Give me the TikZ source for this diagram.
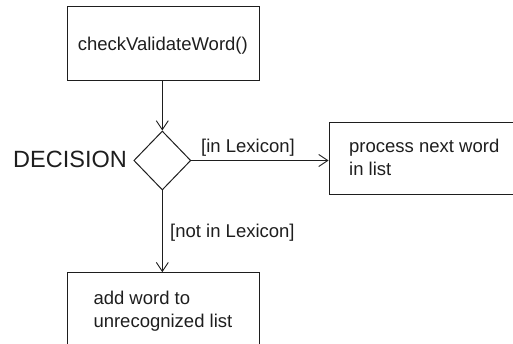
\documentclass[tikz,border=0pt]{standalone}
\usepackage{fontspec}
\setmainfont{Liberation Sans}
\usetikzlibrary{arrows.meta,shapes.geometric}
\definecolor{ink}{HTML}{1E1E1E}
\tikzset{
  box/.style={draw=ink,line width=1pt,rectangle,inner sep=0pt},
  txt/.style={text=ink,inner sep=0pt,font=\fontsize{18.5}{22}\selectfont},
  flow/.style={draw=ink,line width=0.9pt,-{Straight Barb[length=9pt,width=12pt,line width=0.9pt]}},
}
\begin{document}
\begin{tikzpicture}[x=1pt,y=-1pt]
\useasboundingbox (0,0) rectangle (513,344);
\clip (0,0) rectangle (513,344);
% boxes
\node[box,minimum width=192pt,minimum height=73.6pt] (check) at (163.3,43.5) {};
\node[box,minimum width=231pt,minimum height=72.3pt] (proc) at (444.5,158.2) {};
\node[box,minimum width=192pt,minimum height=76pt] (add) at (163.3,310.7) {};
\node[draw=ink,line width=1pt,diamond,minimum width=57pt,minimum height=59pt,inner sep=0pt] (dec) at (162.3,160.5) {};
% texts
\node[txt,anchor=base] (checkt) at (162.8,50.7) {checkValidateWord()};
\node[txt,anchor=base west] (proct1) at (349,153) {process next word};
\node[txt,anchor=base west] (proct2) at (349,176) {in list};
\node[txt,anchor=base west] (addt1) at (93.3,304) {add word to};
\node[txt,anchor=base west] (addt2) at (93.3,327) {unrecognized list};
\node[txt,anchor=base east,font=\fontsize{23.5}{28}\selectfont] (dect) at (127,168) {DECISION};
\node[txt,anchor=base west] (inlex) at (201,152.5) {[in Lexicon]};
\node[txt,anchor=base west] (notlex) at (170,238) {[not in Lexicon]};
% connectors
\draw[flow] (check.south -| dec.north) -- (dec.north);
\draw[flow] (dec.east) -- (dec.east -| proc.west);
\draw[flow] (dec.south) -- (dec.south |- add.north);
\end{tikzpicture}
\end{document}
